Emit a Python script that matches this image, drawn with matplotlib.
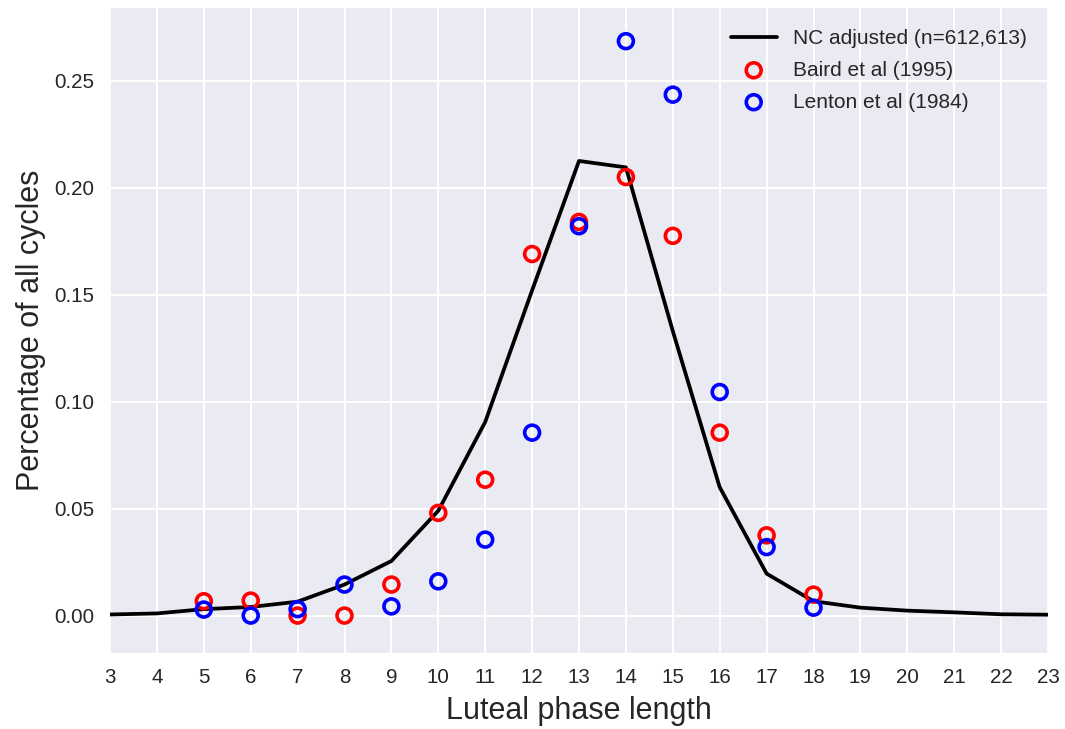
import matplotlib
matplotlib.use("Agg")
import matplotlib.pyplot as plt
import numpy as np

days = list(range(3, 24))
nc_adjusted = [0.0005, 0.001, 0.003, 0.004, 0.0065, 0.0145, 0.0255, 0.049, 0.0905,
               0.152, 0.2125, 0.2095, 0.133, 0.060, 0.0196, 0.0067, 0.0037, 0.0023,
               0.0015, 0.0006, 0.0004]

lit_days = list(range(5, 19))
baird = [0.0067, 0.0070, 0.0, 0.0, 0.0145, 0.048, 0.0635, 0.169, 0.184, 0.205,
         0.1775, 0.0855, 0.0375, 0.0098]
lenton = [0.0028, 0.0, 0.003, 0.0145, 0.0043, 0.016, 0.0355, 0.0855, 0.182, 0.2685,
          0.2435, 0.1045, 0.032, 0.0037]

plt.style.use("seaborn-v0_8-darkgrid")
plt.rcParams['font.family'] = ['Liberation Sans', 'DejaVu Sans']
plt.rcParams['grid.linewidth'] = 1.4

fig = plt.figure(figsize=(10.65, 7.29), dpi=100)
ax = fig.add_axes([110/1065, 1 - 653/729, (1048-110)/1065, (653-8)/729])

ax.plot(days, nc_adjusted, color='black', lw=2.7, label='NC adjusted (n=612,613)')
ax.scatter(lit_days, baird, s=115, facecolors='none', edgecolors='red', linewidths=2.6,
           label='Baird et al (1995)', zorder=3)
ax.scatter(lit_days, lenton, s=115, facecolors='none', edgecolors='blue', linewidths=2.6,
           label='Lenton et al (1984)', zorder=3)

ax.set_xlim(3, 23)
ax.set_ylim(-0.0175, 0.284)
ax.set_xticks(days)
yt = np.arange(0, 0.26, 0.05)
ax.set_yticks(yt)
ax.set_yticklabels([f"{v:.2f}" for v in yt])
ax.tick_params(labelsize=14.8, colors='#262626', pad=11)
ax.set_xlabel('Luteal phase length', fontsize=22, color='#262626', labelpad=6)
ax.set_ylabel('Percentage of all cycles', fontsize=22, color='#262626', labelpad=6)
ax.legend(loc='upper right', fontsize=15, frameon=False, handlelength=2.2,
          labelspacing=0.62, bbox_to_anchor=(1.0, 1.0), borderaxespad=0.6)

fig.savefig('out.png', dpi=100)
